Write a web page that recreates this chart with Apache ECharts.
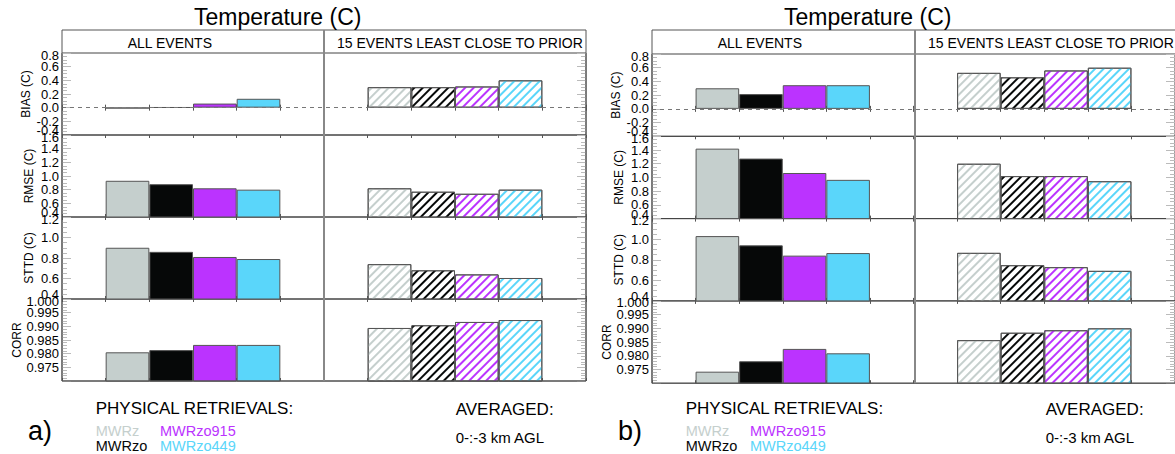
<!DOCTYPE html>
<html><head><meta charset="utf-8">
<script src="https://cdn.jsdelivr.net/npm/echarts@6/dist/echarts.min.js"></script>
<style>html,body{margin:0;padding:0;background:#fff}#c{width:1175px;height:454px}</style>
</head><body><div id="c"></div><script>
// ---------- data ----------
const methods = ['MWRz', 'MWRzo', 'MWRzo915', 'MWRzo449'];
const groups = ['ALL EVENTS', '15 EVENTS LEAST CLOSE TO PRIOR'];
const metrics = ['BIAS (C)', 'RMSE (C)', 'STTD (C)', 'CORR'];
const yMin = [-0.4, 0.4, 0.4, 0.970];
const yMax = [0.8, 1.6, 1.2, 1.000];
const yStep = [0.2, 0.2, 0.2, 0.005];
const yDecimals = [1, 1, 1, 3];
const panelTags = ['a)', 'b)'];
const titleText = 'Temperature (C)';
const legendHeader = 'PHYSICAL RETRIEVALS:';
const avgHeader = 'AVERAGED:';
const avgText = '0-:-3 km AGL';

// panel a)
const a_all_bias = [-0.01, 0.005, 0.06, 0.13];
const a_all_rmse = [0.93, 0.88, 0.82, 0.80];
const a_all_sttd = [0.90, 0.86, 0.81, 0.79];
const a_all_corr = [0.9805, 0.9813, 0.9832, 0.9832];
const a_15_bias = [0.30, 0.30, 0.31, 0.40];
const a_15_rmse = [0.82, 0.77, 0.74, 0.80];
const a_15_sttd = [0.74, 0.68, 0.64, 0.605];
const a_15_corr = [0.9894, 0.9904, 0.9916, 0.9923];
// panel b)
const b_all_bias = [0.30, 0.215, 0.345, 0.345];
const b_all_rmse = [1.42, 1.275, 1.065, 0.965];
const b_all_sttd = [1.03, 0.94, 0.84, 0.865];
const b_all_corr = [0.9742, 0.978, 0.9825, 0.9809];
const b_15_bias = [0.525, 0.46, 0.56, 0.60];
const b_15_rmse = [1.20, 1.02, 1.02, 0.945];
const b_15_sttd = [0.867, 0.747, 0.728, 0.692];
const b_15_corr = [0.9857, 0.9884, 0.9893, 0.9900];

const panelData = [
  [[a_all_bias, a_15_bias], [a_all_rmse, a_15_rmse], [a_all_sttd, a_15_sttd], [a_all_corr, a_15_corr]],
  [[b_all_bias, b_15_bias], [b_all_rmse, b_15_rmse], [b_all_sttd, b_15_sttd], [b_all_corr, b_15_corr]]
];

// ---------- styles / layout ----------
const FONT = '"Liberation Sans", Arial, Helvetica, sans-serif';
const colors = ['#c5cfcd', '#060808', '#bb33ff', '#5ad6fa'];
const minorSplit = [4, 4, 4, 5];
const nameGaps = [30, 27, 27, 39];
const panels = [
  { x0: 62, headerTop: 30, top: 53, w: 524, rowH: 82 },
  { x0: 652, headerTop: 30, top: 54, w: 526, rowH: 82.3 }
];
// 12 category slots: empty, 4 methods, empty | empty, 4 methods, empty
const cats = ['', ...methods, '', '', ...methods.map(m => m + ' '), ''];

const grids = [], xAxes = [], yAxes = [], series = [], graphics = [];

function txt(x, baseline, text, size, fill) {
  return { type: 'text', z: 20, style: { x: x, y: baseline - 0.35 * size, text: text,
    font: size + 'px ' + FONT, fill: fill || '#000', verticalAlign: 'middle', align: 'left' } };
}
const labelRich = {
  lo: { fontFamily: FONT, fontSize: 13, color: '#000', padding: [0, 0, 9, 0] },
  hi: { fontFamily: FONT, fontSize: 13, color: '#000', padding: [4, 0, 0, 0] }
};
const labelBase = { show: true, margin: 3, fontFamily: FONT, fontSize: 13, color: '#000' };

panels.forEach((P, p) => {
  for (let r = 0; r < 4; r++) {
    const gi = grids.length;
    grids.push({ left: P.x0, top: P.top + r * P.rowH, width: P.w, height: P.rowH,
      show: true, borderColor: '#444', borderWidth: 1, backgroundColor: 'transparent', containLabel: false });
    ['bottom', 'top'].forEach(pos => xAxes.push({
      type: 'category', gridIndex: gi, position: pos, data: cats,
      axisLine: { show: false }, axisLabel: { show: false }, splitLine: { show: false },
      axisTick: { show: true, inside: true, length: 3, interval: 0, lineStyle: { color: '#555' } }
    }));
    const yBase = {
      type: 'value', gridIndex: gi, min: yMin[r], max: yMax[r], interval: yStep[r],
      splitLine: { show: false }, axisLine: { show: false },
      axisTick: { show: true, inside: true, length: 9, lineStyle: { color: '#bbb' } },
      minorTick: { show: true, splitNumber: minorSplit[r], length: 5, lineStyle: { color: '#bbb' } }
    };
    const dec = yDecimals[r];
    const mn = yMin[r], mx = yMax[r];
    const fmt = v => (Math.abs(v) < 1e-9 ? 0 : v).toFixed(dec);
    // main labelled axis (inner labels)
    yAxes.push(Object.assign({}, yBase, {
      position: 'left', name: metrics[r], nameLocation: 'middle', nameGap: nameGaps[r],
      nameTextStyle: { fontFamily: FONT, fontSize: 12, color: '#000' },
      axisLabel: Object.assign({}, labelBase, { showMinLabel: false, showMaxLabel: false, formatter: fmt })
    }));
    // right-side ticks
    yAxes.push(Object.assign({}, yBase, { position: 'right', axisLabel: { show: false } }));
    // end labels (min / max), nudged apart like the reference
    yAxes.push({
      type: 'value', gridIndex: gi, position: 'left', min: mn, max: mx, interval: mx - mn,
      splitLine: { show: false }, axisLine: { show: false }, axisTick: { show: false }, minorTick: { show: false },
      axisLabel: Object.assign({}, labelBase, { rich: labelRich, showMinLabel: true, showMaxLabel: true,
        formatter: v => {
          if (Math.abs(v - mn) < 1e-9) return r === 3 ? '' : '{lo|' + fmt(mn) + '}';
          return '{hi|' + fmt(mx) + '}';
        } })
    });

    const [allArr, lessArr] = panelData[p][r];
    const data = cats.map((c, i) => {
      if (i >= 1 && i <= 4) {
        const k = i - 1;
        return { value: allArr[k], itemStyle: { color: colors[k] } };
      }
      if (i >= 7 && i <= 10) {
        const k = i - 7;
        return { value: lessArr[k], itemStyle: { color: '#ffffff',
          decal: { symbol: 'rect', symbolSize: 1, dashArrayX: [1, 0], dashArrayY: [2, 4],
                   rotation: -Math.PI / 4, color: colors[k] } } };
      }
      return '-';
    });
    const s = {
      type: 'bar', xAxisIndex: 2 * gi, yAxisIndex: 3 * gi, data: data,
      barWidth: '100%', barCategoryGap: '0%', animation: false, silent: true,
      itemStyle: { borderColor: '#555', borderWidth: 1 }
    };
    if (r === 0) {
      s.markLine = { silent: true, symbol: 'none', label: { show: false },
        lineStyle: { type: [4, 4], color: '#777', width: 1 }, data: [{ yAxis: 0 }] };
    }
    series.push(s);
  }
  const bottom = P.top + 4 * P.rowH;
  graphics.push({ type: 'rect', z: 15, shape: { x: P.x0, y: P.headerTop, width: P.w, height: bottom - P.headerTop },
    style: { fill: 'none', stroke: '#555', lineWidth: 1 } });
  graphics.push({ type: 'line', z: 15, shape: { x1: P.x0 + P.w / 2, y1: P.headerTop, x2: P.x0 + P.w / 2, y2: bottom },
    style: { stroke: '#888', lineWidth: 2 } });
  const X = P.x0;
  graphics.push(txt(X + 132, 25, titleText, 23));
  graphics.push(txt(X + 65.7, 48, groups[0], 14));
  graphics.push(txt(X + P.w / 2 + 13, 48, groups[1], 14));
  graphics.push(txt(X + 33.7, 414.5, legendHeader, 17));
  graphics.push(txt(X - 34, 440, panelTags[p], 27));
  graphics.push(txt(X + 33.7, 436.3, methods[0], 14.5, colors[0]));
  graphics.push(txt(X + 98, 436.3, methods[2], 14.5, colors[2]));
  graphics.push(txt(X + 33.7, 450.8, methods[1], 14.5, colors[1]));
  graphics.push(txt(X + 98, 450.8, methods[3], 14.5, colors[3]));
  graphics.push(txt(X + 393.7, 415, avgHeader, 17));
  graphics.push(txt(X + 393.7, 442.5, avgText, 15));
});

const chart = echarts.init(document.getElementById('c'), null, { renderer: 'svg', width: 1175, height: 454 });
chart.setOption({
  animation: false,
  backgroundColor: '#fff',
  grid: grids, xAxis: xAxes, yAxis: yAxes, series: series, graphic: graphics
});
</script></body></html>
